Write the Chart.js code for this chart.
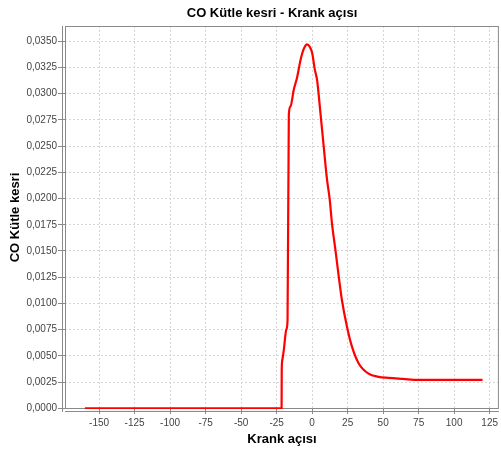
<!DOCTYPE html>
<html>
<head>
<meta charset="utf-8">
<script src="https://cdn.jsdelivr.net/npm/chart.js@4"></script>
<style>
  html, body { margin: 0; padding: 0; background: #fff; }
  #wrap { width: 501px; height: 454px; position: relative; }
</style>
</head>
<body>
<div id="wrap"><canvas id="chart"></canvas></div>
<script>
// CO mass fraction vs crank angle.
const TITLE = 'CO Kütle kesri - Krank açısı';
const X_TITLE = 'Krank açısı';
const Y_TITLE = 'CO Kütle kesri';

const crankAngle = [
  -160, -21.5, -21.4, -21.0, -19.9, -18.2, -17.3, -16.4, -15.2, -12.9,
  -10.5, -8.2, -5.8, -3.5, -1.8, 0.0, 1.9, 3.5, 5.9, 8.2,
  10.5, 12.4, 14.0, 16.4, 18.7, 21.0, 24.5, 28.0, 32.7, 39.7,
  46.7, 53.7, 64.0, 74.8, 120.0,
];
const coMassFraction = [
  0, 0, 0.0036, 0.0046, 0.0056, 0.0075, 0.0084, 0.0280, 0.0288, 0.0304,
  0.0316, 0.0332, 0.0343, 0.0347, 0.0345, 0.0339, 0.0323, 0.0313, 0.0281, 0.0249,
  0.0218, 0.0199, 0.0176, 0.0151, 0.0126, 0.0103, 0.0078, 0.0059, 0.0043, 0.0033,
  0.0030, 0.0029, 0.0028, 0.0027, 0.0027,
];

const xTicks = [-150, -125, -100, -75, -50, -25, 0, 25, 50, 75, 100, 125];
const yTicks = [
  0, 0.0025, 0.005, 0.0075, 0.01, 0.0125, 0.015, 0.0175,
  0.02, 0.0225, 0.025, 0.0275, 0.03, 0.0325, 0.035,
];

const NARROW = '"Liberation Sans Narrow", "Liberation Sans", Arial, sans-serif';
const REGULAR = '"Liberation Sans", Arial, sans-serif';
const GRID = '#d6d6d6';
const AXIS = '#8a8a8a';

// JFreeChart-style frame: plot outline plus axis lines offset a few px.
const framePlugin = {
  id: 'frame',
  beforeDatasetsDraw(chart) {
    const { ctx, chartArea: a } = chart;
    ctx.save();
    ctx.strokeStyle = AXIS;
    ctx.lineWidth = 1;
    ctx.strokeRect(a.left + 0.5, a.top + 0.5, a.right - a.left - 1, a.bottom - a.top - 1);
    ctx.beginPath();
    ctx.moveTo(a.left - 2.5, a.top);
    ctx.lineTo(a.left - 2.5, a.bottom + 3);
    ctx.moveTo(a.left, a.bottom + 2.5);
    ctx.lineTo(a.right, a.bottom + 2.5);
    ctx.stroke();
    ctx.restore();
  },
};

// Title sits a little left of centre in the original, so draw it ourselves.
const titlePlugin = {
  id: 'plotTitle',
  afterDraw(chart) {
    const { ctx } = chart;
    ctx.save();
    ctx.font = `bold 13px ${NARROW}`;
    ctx.fillStyle = '#000';
    ctx.textAlign = 'center';
    ctx.textBaseline = 'middle';
    ctx.fillText(TITLE, 272, 13.5);
    ctx.restore();
  },
};

new Chart(document.getElementById('chart'), {
  type: 'scatter',
  data: {
    datasets: [{
      label: Y_TITLE,
      data: crankAngle.map((x, i) => ({ x, y: coMassFraction[i] })),
      showLine: true,
      borderColor: '#ff0000',
      borderWidth: 2.2,
      pointRadius: 0,
      cubicInterpolationMode: 'monotone',
    }],
  },
  options: {
    responsive: true,
    maintainAspectRatio: false,
    animation: false,
    layout: { padding: { top: 26, right: 0, bottom: 0, left: 0 } },
    plugins: {
      legend: { display: false },
      title: { display: false },
      tooltip: { enabled: false },
    },
    scales: {
      x: {
        type: 'linear',
        min: -174,
        max: 131.5,
        afterBuildTicks: (scale) => { scale.ticks = xTicks.map((value) => ({ value })); },
        afterFit: (scale) => { scale.height = 45; },
        ticks: {
          color: '#444',
          font: { family: NARROW, size: 10 },
          padding: 3,
          maxRotation: 0,
          callback: (v) => String(v),
        },
        grid: {
          color: GRID,
          tickColor: AXIS,
          tickLength: 5,
          tickBorderDash: [],
        },
        border: { display: false, dash: [2, 2] },
        title: {
          display: true,
          text: X_TITLE,
          color: '#000',
          font: { family: NARROW, size: 13, weight: 'bold' },
          padding: { top: 0, bottom: 6.7 },
        },
      },
      y: {
        type: 'linear',
        min: -0.00007,
        max: 0.03646,
        afterBuildTicks: (scale) => { scale.ticks = yTicks.map((value) => ({ value })); },
        afterFit: (scale) => { scale.width = 65; },
        ticks: {
          color: '#444',
          font: { family: NARROW, size: 10 },
          padding: 1,
          callback: (v) => v.toFixed(4).replace('.', ','),
        },
        grid: {
          color: GRID,
          tickColor: AXIS,
          tickLength: 7,
          tickBorderDash: [],
        },
        border: { display: false, dash: [2, 2] },
        title: {
          display: true,
          text: Y_TITLE,
          color: '#000',
          font: { family: REGULAR, size: 13, weight: 'bold' },
          padding: { top: 8, bottom: 0 },
        },
      },
    },
  },
  plugins: [framePlugin, titlePlugin],
});
</script>
</body>
</html>
